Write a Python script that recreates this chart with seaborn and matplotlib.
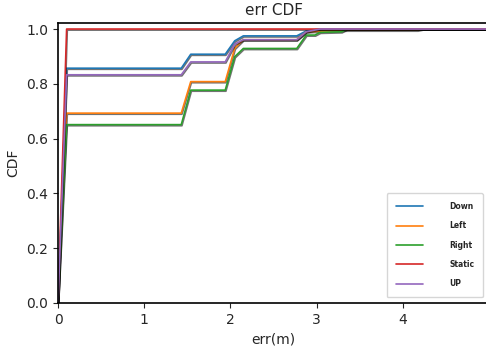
import pandas as pd
import seaborn as sns
import matplotlib.pyplot as plt
import matplotlib.patheffects as pe

# CDF curves
down_x = [0, 0.1, 1.43, 1.54, 1.94, 2.05, 2.15, 2.77, 2.88, 3.04, 5.0]
down_y = [0, 0.857, 0.857, 0.908, 0.908, 0.957, 0.975, 0.975, 0.993, 1.0, 1.0]

left_x = [0, 0.1, 1.43, 1.54, 1.94, 2.05, 2.15, 2.77, 2.88, 3.35, 4.17, 4.23, 5.0]
left_y = [0, 0.693, 0.693, 0.808, 0.808, 0.93, 0.961, 0.961, 0.99, 0.996, 0.996, 1.0, 1.0]

right_x = [0, 0.1, 1.43, 1.54, 1.94, 2.05, 2.15, 2.77, 2.88, 2.98, 3.04, 3.29, 3.35, 5.0]
right_y = [0, 0.651, 0.651, 0.777, 0.777, 0.899, 0.929, 0.929, 0.978, 0.978, 0.988, 0.99, 1.0, 1.0]

static_x = [0, 0.1, 5.0]
static_y = [0, 1.0, 1.0]

up_x = [0, 0.1, 1.43, 1.54, 1.94, 2.05, 2.15, 2.77, 2.88, 3.04, 5.0]
up_y = [0, 0.833, 0.833, 0.880, 0.880, 0.945, 0.961, 0.961, 0.99, 1.0, 1.0]

series = {
    'Down': (down_x, down_y),
    'Left': (left_x, left_y),
    'Right': (right_x, right_y),
    'Static': (static_x, static_y),
    'UP': (up_x, up_y),
}
colors = ['#1f77b4', '#ff7f0e', '#2ca02c', '#d62728', '#9467bd']

sns.set_style('ticks')

fig = plt.figure(figsize=(4.86, 3.47), dpi=100)
ax = fig.add_axes([58 / 486, 44 / 347, 431 / 486, 280 / 347])

for (name, (xs, ys)), c in zip(series.items(), colors):
    df = pd.DataFrame({'err': xs, 'cdf': ys})
    sns.lineplot(data=df, x='err', y='cdf', ax=ax, color=c, label=name,
                 sort=False, estimator=None, linewidth=1.2,
                 path_effects=[pe.SimpleLineShadow(offset=(0.5, -0.8), shadow_color='black', alpha=0.55),
                               pe.Normal()])

ax.set_xlim(0, 5.0)
ax.set_ylim(0, 1.022)
ax.set_xticks([0, 1, 2, 3, 4])
ax.set_yticks([0.0, 0.2, 0.4, 0.6, 0.8, 1.0])
ax.set_title('err CDF', fontsize=11)
ax.set_xlabel('err(m)', fontsize=10)
ax.set_ylabel('CDF', fontsize=10)
ax.tick_params(labelsize=10)
for s in ax.spines.values():
    s.set_linewidth(1.2)
    s.set_color('black')

leg = ax.legend(loc='lower right', bbox_to_anchor=(0.986, 0.021), fontsize=5.5,
                handlelength=3.6, handletextpad=3.4, labelspacing=1.35,
                borderpad=1.15, borderaxespad=0, frameon=True)
for t in leg.get_texts():
    t.set_fontweight('bold')
for h in leg.get_lines():
    h.set_path_effects([])

fig.savefig('out.png', dpi=100)
